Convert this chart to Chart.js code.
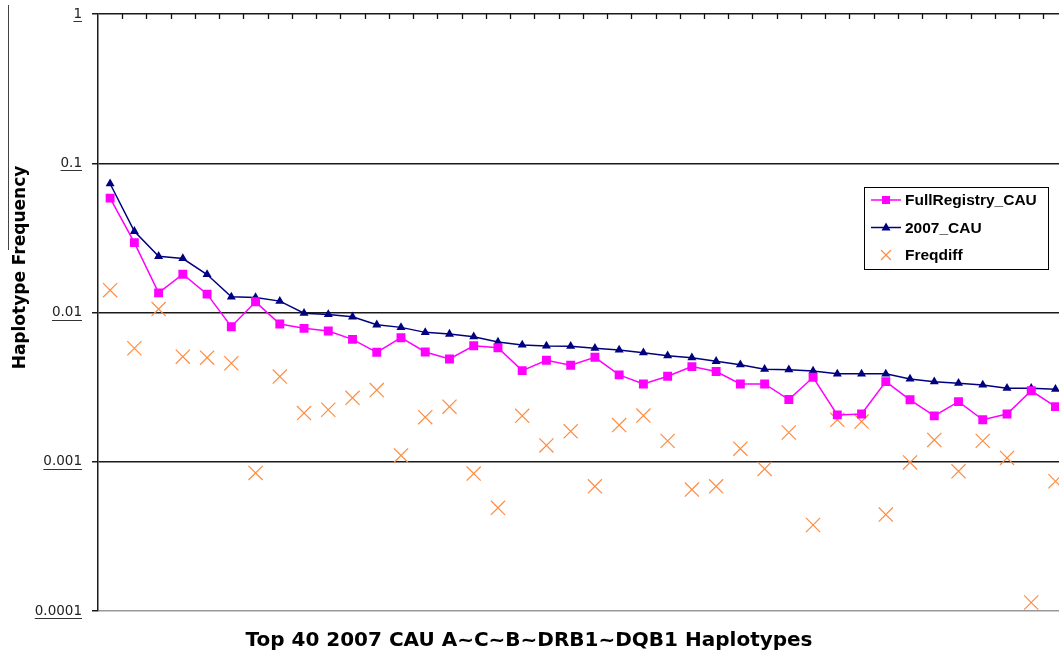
<!DOCTYPE html>
<html>
<head>
<meta charset="utf-8">
<title>Top 40 2007 CAU Haplotypes</title>
<script src="https://cdn.jsdelivr.net/npm/chart.js@4.4.1/dist/chart.umd.min.js"></script>
<style>
    html, body { margin: 0; padding: 0; background: #fff; overflow: hidden; }
    #chart { display: block; }
</style>
</head>
<body>
<canvas id="chart" width="1080" height="657"></canvas>
<script>
// Haplotype rank 1..40 (labels are not printed on the chart)
const categories = ['1', '2', '3', '4', '5', '6', '7', '8', '9', '10',
    '11', '12', '13', '14', '15', '16', '17', '18', '19', '20',
    '21', '22', '23', '24', '25', '26', '27', '28', '29', '30',
    '31', '32', '33', '34', '35', '36', '37', '38', '39', '40'];

// Series
const fullRegistry = [0.0584, 0.0294, 0.01354, 0.01805, 0.01327, 0.00803, 0.01179, 0.00837, 0.00783, 0.00751,
    0.00661, 0.00541, 0.00678, 0.00544, 0.00488, 0.00599, 0.00581, 0.00408, 0.00479, 0.00443,
    0.00501, 0.00382, 0.00332, 0.00374, 0.00434, 0.00402, 0.00332, 0.00332, 0.00261, 0.00368,
    0.00206, 0.00209, 0.00344, 0.0026, 0.00203, 0.00253, 0.00191, 0.00209, 0.00299, 0.00234];

const cau2007 = [0.0729, 0.0350, 0.0238, 0.0230, 0.01797, 0.01273, 0.01262, 0.01192, 0.0099, 0.0097,
    0.00936, 0.00827, 0.00795, 0.00736, 0.00717, 0.00688, 0.00634, 0.00606, 0.00597, 0.00594,
    0.00576, 0.00561, 0.00538, 0.00514, 0.00498, 0.00471, 0.00447, 0.00417, 0.00414, 0.00406,
    0.00388, 0.00388, 0.00388, 0.00359, 0.00344, 0.00336, 0.00327, 0.00311, 0.00311, 0.00306];

const freqdiff = [0.01411, 0.00576, 0.01054, 0.00506, 0.00498, 0.00457, 0.000842, 0.00372, 0.00212, 0.00223,
    0.00268, 0.00302, 0.001103, 0.00199, 0.00234, 0.000833, 0.000491, 0.00203, 0.001287, 0.0016,
    0.000685, 0.00176, 0.00204, 0.00138, 0.000651, 0.000685, 0.001224, 0.000895, 0.00157, 0.000377,
    0.00191, 0.00186, 0.000443, 0.00099, 0.0014, 0.000863, 0.00138, 0.00106, 0.000114, 0.00074];

// Y axis ticks
const yTicks = [0.0001, 0.001, 0.01, 0.1, 1];
const yTickLabels = ['0.0001', '0.001', '0.01', '0.1', '1'];

const xTitle = 'Top 40 2007 CAU A~C~B~DRB1~DQB1 Haplotypes';
const yTitle = 'Haplotype Frequency';

const tickFont = { family: 'DejaVu Sans', size: 13.5 };

// Draw a legend marker by hand
function drawMarker(ctx, style, x, y, color) {
    ctx.fillStyle = color;
    ctx.strokeStyle = color;
    ctx.beginPath();
    if (style === 'rect') {
        ctx.rect(x - 4, y - 4, 8, 8);
        ctx.fill();
    } else if (style === 'triangle') {
        ctx.moveTo(x, y - 5);
        ctx.lineTo(x + 4.5, y + 3);
        ctx.lineTo(x - 4.5, y + 3);
        ctx.closePath();
        ctx.fill();
    } else {
        ctx.lineWidth = 1.2;
        ctx.moveTo(x - 5, y - 5); ctx.lineTo(x + 5, y + 5);
        ctx.moveTo(x + 5, y - 5); ctx.lineTo(x - 5, y + 5);
        ctx.stroke();
    }
}

// Extra bits: top ticks, underlined tick labels, titles, boxed legend
const decorations = {
    id: 'decorations',
    afterDraw(chart) {
        const { ctx, chartArea: area, scales: { x, y } } = chart;
        ctx.save();

        // category ticks hanging down from the top border
        const band = (area.right - area.left) / categories.length;
        ctx.strokeStyle = '#111';
        ctx.lineWidth = 1.3;
        ctx.beginPath();
        for (let i = 0; i < categories.length; i++) {
            const px = Math.round(x.getPixelForValue(i) + band / 2) + 0.5;
            ctx.moveTo(px, area.top);
            ctx.lineTo(px, area.top + 5);
        }
        ctx.stroke();

        // underline the y tick labels
        ctx.font = tickFont.size + 'px ' + tickFont.family;
        ctx.strokeStyle = '#333';
        ctx.lineWidth = 1;
        const labelRight = area.left - 16;
        y.ticks.forEach(t => {
            const label = yTickLabels[yTicks.indexOf(t.value)];
            const w = ctx.measureText(label).width;
            const py = Math.round(y.getPixelForValue(t.value)) + 7.5;
            ctx.beginPath();
            ctx.moveTo(labelRight - w, py);
            ctx.lineTo(labelRight, py);
            ctx.stroke();
        });

        // left frame remnant
        ctx.strokeStyle = '#444';
        ctx.beginPath();
        ctx.moveTo(8.5, 5);
        ctx.lineTo(8.5, 250);
        ctx.stroke();

        // axis titles
        ctx.fillStyle = '#000';
        ctx.font = 'bold 20px "DejaVu Sans"';
        ctx.textAlign = 'center';
        ctx.textBaseline = 'alphabetic';
        ctx.fillText(xTitle, 529, 646);

        ctx.save();
        ctx.translate(25, 267.5);
        ctx.rotate(-Math.PI / 2);
        ctx.font = 'bold 17px "DejaVu Sans"';
        ctx.fillText(yTitle, 0, 0);
        ctx.restore();

        // legend box
        const box = { left: 864, top: 187, width: 184, height: 82 };
        ctx.fillStyle = '#fff';
        ctx.fillRect(box.left, box.top, box.width, box.height);
        ctx.strokeStyle = '#000';
        ctx.lineWidth = 1;
        ctx.strokeRect(box.left + 0.5, box.top + 0.5, box.width, box.height);

        ctx.font = 'bold 15.5px "Liberation Sans"';
        ctx.textAlign = 'left';
        ctx.textBaseline = 'middle';
        chart.data.datasets.forEach((ds, i) => {
            const cy = box.top + 13 + i * 27.5;
            if (ds.showLine !== false) {
                ctx.strokeStyle = ds.borderColor;
                ctx.lineWidth = 1.5;
                ctx.beginPath();
                ctx.moveTo(871, cy);
                ctx.lineTo(901, cy);
                ctx.stroke();
            }
            drawMarker(ctx, ds.pointStyle, 886, cy, ds.pointBackgroundColor);
            ctx.fillStyle = '#000';
            ctx.fillText(ds.label, 905, cy + 1);
        });

        ctx.restore();
    }
};

new Chart(document.getElementById('chart'), {
    type: 'line',
    data: {
        labels: categories,
        datasets: [
            {
                label: 'FullRegistry_CAU',
                data: fullRegistry,
                borderColor: '#FF00FF',
                borderWidth: 1.5,
                pointStyle: 'rect',
                pointRadius: 6.3,
                pointBackgroundColor: '#FF00FF',
                pointBorderColor: '#FF00FF',
                pointBorderWidth: 0,
                tension: 0
            },
            {
                label: '2007_CAU',
                data: cau2007,
                borderColor: '#000080',
                borderWidth: 1.5,
                pointStyle: 'triangle',
                pointRadius: 5.2,
                pointBackgroundColor: '#000080',
                pointBorderColor: '#000080',
                pointBorderWidth: 0,
                tension: 0
            },
            {
                label: 'Freqdiff',
                data: freqdiff,
                showLine: false,
                borderColor: '#FF8C42',
                pointStyle: 'crossRot',
                pointRadius: 10,
                pointBackgroundColor: '#FF8C42',
                pointBorderColor: '#FF8C42',
                pointBorderWidth: 1.2
            }
        ]
    },
    options: {
        responsive: false,
        animation: false,
        layout: { padding: { left: 0, top: 14, right: 12.4, bottom: 46 } },
        plugins: {
            legend: { display: false },
            tooltip: { enabled: false }
        },
        scales: {
            x: {
                type: 'category',
                offset: true,
                display: false
            },
            y: {
                type: 'logarithmic',
                min: 0.0001,
                max: 1,
                afterBuildTicks: scale => {
                    scale.ticks = yTicks.map(v => ({ value: v }));
                },
                afterFit: scale => {
                    scale.width = 98;
                    scale.paddingTop = 0;
                },
                ticks: {
                    autoSkip: false,
                    padding: 10,
                    color: '#222',
                    font: tickFont,
                    callback: v => yTickLabels[yTicks.indexOf(v)]
                },
                grid: {
                    color: c => (c.tick && c.tick.value === yTicks[0]) ? '#999' : '#1a1a1a',
                    tickColor: '#1a1a1a',
                    lineWidth: 1.5,
                    tickLength: 6
                },
                border: { color: '#1a1a1a', width: 1.5 }
            }
        }
    },
    plugins: [decorations]
});
</script>
</body>
</html>
